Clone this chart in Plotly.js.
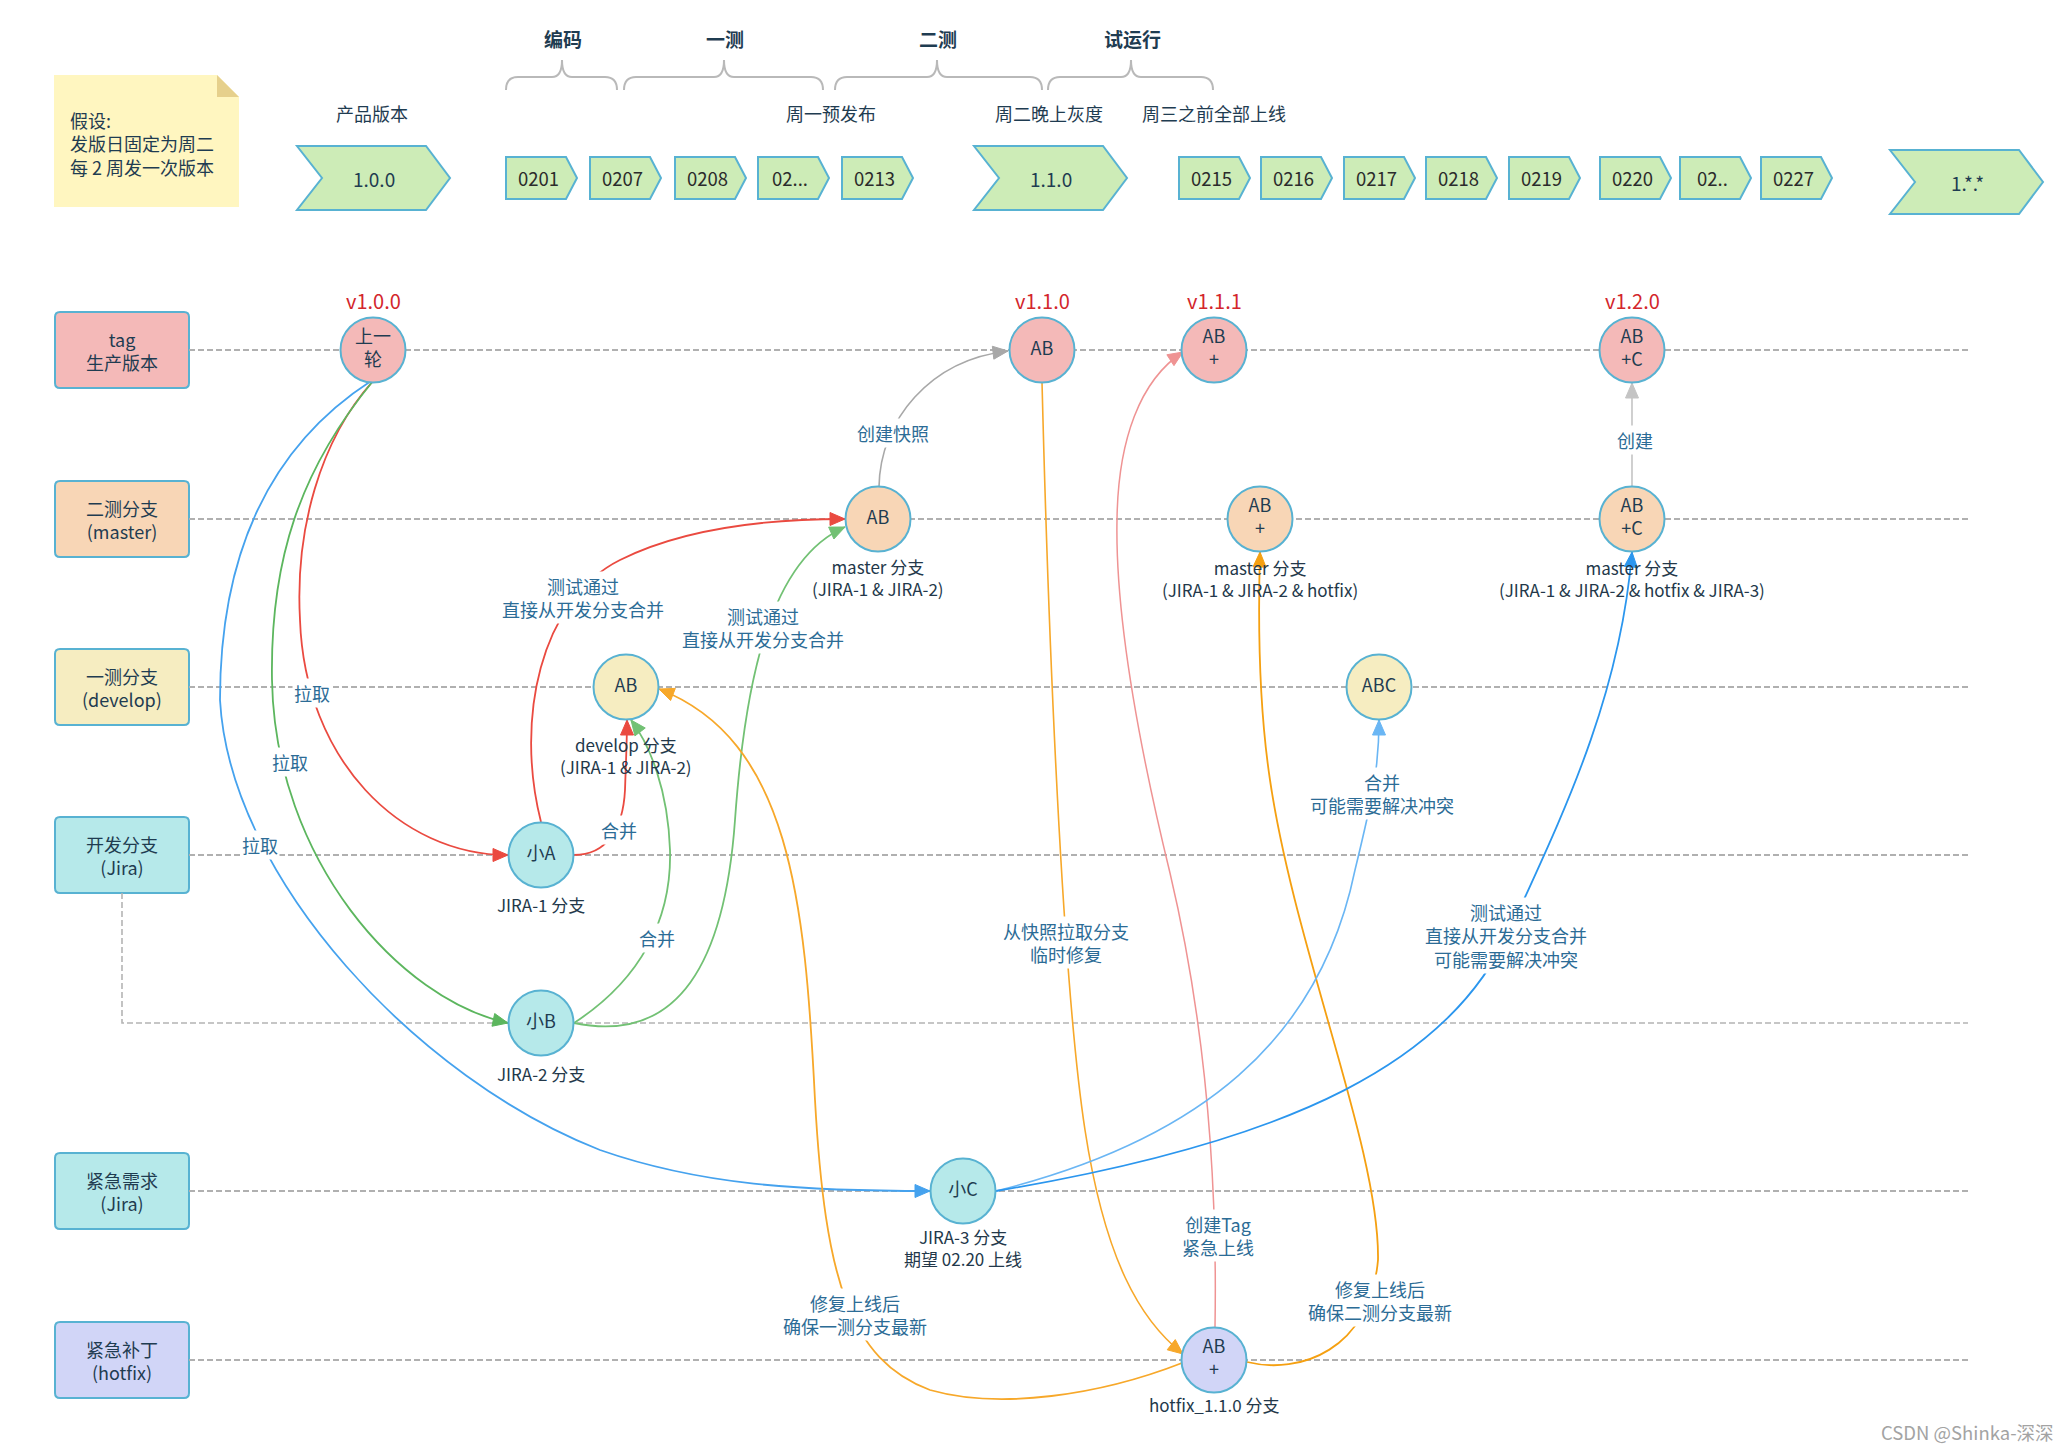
<!DOCTYPE html>
<html><head><meta charset="utf-8">
<script src="https://cdn.plot.ly/plotly-3.0.1.min.js"></script>
<style>html,body{margin:0;padding:0;background:#fff;overflow:hidden}</style>
</head><body><div id="chart" style="width:2069px;height:1450px"></div>
<script>
// ---------------- data ----------------
const noteText = ['假设:', '发版日固定为周二', '每 2 周发一次版本'];
const phases = ['编码', '一测', '二测', '试运行'];
const phaseStart = [506, 624, 835, 1048];
const phaseEnd = [617, 823, 1042, 1213];
const phaseTip = [562, 724, 937, 1131];
const milestones = ['产品版本', '周一预发布', '周二晚上灰度', '周三之前全部上线'];
const milestoneX = [372, 831, 1049, 1214];
const releases = ['1.0.0', '1.1.0', '1.*.*'];
const releaseX = [297, 974, 1890];
const releaseY = [178, 178, 182];
const dates = ['0201', '0207', '0208', '02...', '0213', '0215', '0216', '0217', '0218', '0219', '0220', '02..', '0227'];
const dateX = [506, 590, 675, 758, 842, 1179, 1261, 1344, 1426, 1509, 1600, 1680, 1761];

const laneNames = ['tag<br>生产版本', '二测分支<br>(master)', '一测分支<br>(develop)', '开发分支<br>(Jira)', '', '紧急需求<br>(Jira)', '紧急补丁<br>(hotfix)'];
const rowY = [350, 519, 687, 855, 1023, 1191, 1360];
const laneFill = ['#f4b9b8', '#f8d6b6', '#f6edc1', '#b6e9ea', '#b6e9ea', '#b6e9ea', '#d1d5f7'];

const nodeText = ['上一<br>轮', 'AB', 'AB<br>+', 'AB<br>+C', 'AB', 'AB<br>+', 'AB<br>+C', 'AB', 'ABC', '小A', '小B', '小C', 'AB<br>+'];
const nodeX = [373, 1042, 1214, 1632, 878, 1260, 1632, 626, 1379, 541, 541, 963, 1214];
const nodeRow = [0, 0, 0, 0, 1, 1, 1, 2, 2, 3, 4, 5, 6];

const tagNames = ['v1.0.0', 'v1.1.0', 'v1.1.1', 'v1.2.0'];
const tagNode = [0, 1, 2, 3];

const nodeNotes = ['master 分支<br>(JIRA-1 & JIRA-2)', 'master 分支<br>(JIRA-1 & JIRA-2 & hotfix)', 'master 分支<br>(JIRA-1 & JIRA-2 & hotfix & JIRA-3)',
  'develop 分支<br>(JIRA-1 & JIRA-2)', 'JIRA-1 分支', 'JIRA-2 分支', 'JIRA-3 分支<br>期望 02.20 上线', 'hotfix_1.1.0 分支'];
const noteNode = [4, 5, 6, 7, 9, 10, 11, 12];
const noteDrop = [58, 59, 59, 68, 49, 50, 56, 44];

// edges: start point followed by cubic bezier triplets
const edges = [
  {c: '#ea4a40', w: 1.8, p: [[373,381],[320,440],[295,530],[300,620],[305,760],[400,855],[508,855]]},
  {c: '#5cb65e', w: 1.8, p: [[373,381],[300,470],[270,560],[272,680],[275,860],[400,1000],[508,1023]]},
  {c: '#45a2ee', w: 1.8, p: [[371,381],[280,440],[220,540],[220,700],[230,880],[420,1080],[600,1150],[700,1185],[800,1191],[930,1191]]},
  {c: '#ea4a40', w: 1.8, p: [[541,822],[515,720],[540,600],[620,560],[680,530],[760,519],[845,519]]},
  {c: '#ea4a40', w: 1.8, p: [[574,855],[606,855],[623,830],[625,790],[626,760],[627,740],[627,720]]},
  {c: '#72c174', w: 1.8, p: [[574,1023],[640,980],[672,920],[670,850],[668,790],[650,745],[631,720]]},
  {c: '#72c174', w: 1.8, p: [[574,1023],[680,1045],[725,960],[735,820],[745,680],[770,560],[845,527]]},
  {c: '#a8a8a8', w: 1.6, p: [[879,487],[880,420],[930,360],[1008,351]]},
  {c: '#c4c4c4', w: 1.6, p: [[1632,486],[1632,450],[1632,420],[1632,383]]},
  {c: '#f7a82a', w: 1.6, p: [[1042,382],[1050,700],[1065,1000],[1085,1130],[1105,1260],[1140,1320],[1183,1354]]},
  {c: '#f7a82a', w: 1.8, p: [[1182,1363],[1100,1395],[1000,1410],[930,1390],[850,1360],[825,1280],[815,1100],[805,900],[790,740],[659,689]]},
  {c: '#f5a011', w: 1.8, p: [[1247,1362],[1300,1375],[1370,1350],[1378,1260],[1380,1150],[1295,950],[1270,780],[1258,700],[1258,620],[1260,552]]},
  {c: '#ef9393', w: 1.5, p: [[1215,1327],[1218,1150],[1200,1000],[1170,873],[1140,750],[1115,620],[1117,520],[1118,440],[1140,380],[1183,352]]},
  {c: '#6ab6f4', w: 1.6, p: [[996,1191],[1200,1140],[1320,1040],[1355,870],[1372,800],[1379,770],[1379,720]]},
  {c: '#2b96ee', w: 1.8, p: [[996,1191],[1300,1140],[1450,1060],[1510,930],[1560,820],[1620,700],[1632,552]]}
];

const edgeLabels = ['创建快照', '创建', '测试通过<br>直接从开发分支合并', '测试通过<br>直接从开发分支合并', '拉取', '拉取', '拉取', '合并', '合并',
  '合并<br>可能需要解决冲突', '测试通过<br>直接从开发分支合并<br>可能需要解决冲突', '从快照拉取分支<br>临时修复', '修复上线后<br>确保一测分支最新',
  '创建Tag<br>紧急上线', '修复上线后<br>确保二测分支最新'];
const edgeLabelX = [893, 1635, 583, 763, 312, 290, 260, 619, 657, 1382, 1506, 1066, 855, 1218, 1380];
const edgeLabelY = [433, 440, 597, 627, 693, 762, 845, 830, 938, 793, 935, 942, 1314, 1235, 1300];

// ---------------- drawing ----------------
const FONT = '"Noto Sans CJK SC", "Noto Sans", sans-serif';
const DARK = '#1f3c51';
const EDGE_TXT = '#2c6c96';
const STROKE = '#58b2d2';
const shapes = [];
const ann = [];

function bez(pts) {
  let d = `M ${pts[0][0]},${pts[0][1]}`;
  for (let i = 1; i + 2 < pts.length; i += 3)
    d += ` C ${pts[i][0]},${pts[i][1]} ${pts[i+1][0]},${pts[i+1][1]} ${pts[i+2][0]},${pts[i+2][1]}`;
  return d;
}
function head(tip, from, len, hw) {
  const dx = tip[0]-from[0], dy = tip[1]-from[1], L = Math.hypot(dx, dy);
  const ux = dx/L, uy = dy/L, bx = tip[0]-ux*len, by = tip[1]-uy*len, px = -uy, py = ux;
  return `M ${tip[0]},${tip[1]} L ${bx+px*hw},${by+py*hw} L ${bx-px*hw},${by-py*hw} Z`;
}
function rrect(x0, y0, x1, y1, r) {
  return `M ${x0+r},${y0} L ${x1-r},${y0} Q ${x1},${y0} ${x1},${y0+r} L ${x1},${y1-r} Q ${x1},${y1} ${x1-r},${y1} L ${x0+r},${y1} Q ${x0},${y1} ${x0},${y1-r} L ${x0},${y0+r} Q ${x0},${y0} ${x0+r},${y0} Z`;
}
function txt(text, x, y, size, color, extra) {
  ann.push(Object.assign({x, y, xref: 'x', yref: 'y', text, showarrow: false,
    font: {family: FONT, size, color}, xanchor: 'center', yanchor: 'middle'}, extra || {}));
}

// note
shapes.push({type: 'path', path: `M 54,75 L 217,75 L 239,97 L 239,207 L 54,207 Z`, fillcolor: '#fff6c0', line: {width: 0}, layer: 'below'});
shapes.push({type: 'path', path: `M 217,75 L 217,97 L 239,97 Z`, fillcolor: '#e6d08c', line: {width: 0}, layer: 'below'});
txt(noteText.join('<br>'), 68, 143, 18, DARK, {xanchor: 'left', align: 'left'});

// phases with braces
phases.forEach((p, i) => {
  const a = phaseStart[i], b = phaseEnd[i], m = phaseTip[i];
  shapes.push({type: 'path', layer: 'below', line: {color: '#b9b9b9', width: 2},
    path: `M ${a},90 Q ${a},77 ${a+12},77 L ${m-10},77 Q ${m},77 ${m},60 Q ${m},77 ${m+10},77 L ${b-12},77 Q ${b},77 ${b},90`});
  txt('<b>' + p + '</b>', m + 1, 38, 19, DARK);
});
milestones.forEach((m, i) => txt(m, milestoneX[i], 113, 18, DARK));

// release chevrons
releases.forEach((r, i) => {
  const x = releaseX[i], yc = releaseY[i], h = 32;
  shapes.push({type: 'path', layer: 'below', fillcolor: '#cdecb7', line: {color: STROKE, width: 2},
    path: `M ${x},${yc-h} L ${x+129},${yc-h} L ${x+153},${yc} L ${x+129},${yc+h} L ${x},${yc+h} L ${x+25},${yc} Z`});
  txt(r, x + 77, yc, 19, DARK);
});
// date chevrons
dates.forEach((d, i) => {
  const x = dateX[i];
  shapes.push({type: 'path', layer: 'below', fillcolor: '#cdecb7', line: {color: STROKE, width: 2},
    path: `M ${x},157 L ${x+60},157 L ${x+71},178 L ${x+60},199 L ${x},199 Z`});
  txt(d, x + 32, 178, 18.5, '#2b2b2b');
});

// lanes
laneNames.forEach((n, i) => {
  const y = rowY[i];
  if (n) {
    shapes.push({type: 'path', layer: 'below', fillcolor: laneFill[i], line: {color: STROKE, width: 2}, path: rrect(55, y-38, 189, y+38, 5)});
    txt(n, 122, y, 18, DARK);
    shapes.push({type: 'line', layer: 'below', x0: 189, x1: 1968, y0: y, y1: y, line: {color: '#b0b0b0', width: 2, dash: '6px,3px'}});
  } else {
    shapes.push({type: 'path', layer: 'below', line: {color: '#b4b4b4', width: 1.6, dash: '6px,3px'},
      path: `M 122,${rowY[3]+38} L 122,${y} L 1968,${y}`});
  }
});

// edges
edges.forEach(e => {
  shapes.push({type: 'path', layer: 'below', path: bez(e.p), line: {color: e.c, width: e.w}});
  const n = e.p.length;
  shapes.push({type: 'path', layer: 'below', path: head(e.p[n-1], e.p[n-2], 15, 6.5), fillcolor: e.c, line: {color: e.c, width: 1}});
});

// nodes
const nodeTrace = {
  type: 'scatter', mode: 'markers+text', x: nodeX, y: nodeRow.map(r => rowY[r]), text: nodeText,
  textposition: 'middle center', textfont: {family: FONT, size: 18, color: DARK},
  marker: {size: 65, color: nodeRow.map(r => laneFill[r]), line: {color: STROKE, width: 2}},
  hoverinfo: 'skip', cliponaxis: false
};

// tags
tagNames.forEach((t, i) => txt(t, nodeX[tagNode[i]], 300, 20, '#d3262c'));
// node notes
nodeNotes.forEach((t, i) => {
  const k = noteNode[i], y = rowY[nodeRow[k]];
  txt(t, nodeX[k], y + noteDrop[i], 17, '#23384a');
});
// edge labels
edgeLabels.forEach((t, i) => txt(t, edgeLabelX[i], edgeLabelY[i], 18, EDGE_TXT, {bgcolor: '#ffffff', borderpad: 1}));
// watermark
txt('CSDN @Shinka-深深', 2056, 1432, 18.5, '#a3a3a3', {xanchor: 'right'});

const layout = {
  width: 2069, height: 1450, margin: {l: 0, r: 0, t: 0, b: 0},
  paper_bgcolor: '#ffffff', plot_bgcolor: '#ffffff', showlegend: false,
  xaxis: {range: [0, 2069], visible: false, fixedrange: true},
  yaxis: {range: [1450, 0], visible: false, fixedrange: true},
  shapes, annotations: ann, font: {family: FONT}
};
Plotly.newPlot('chart', [nodeTrace], layout, {staticPlot: true});
</script></body></html>
